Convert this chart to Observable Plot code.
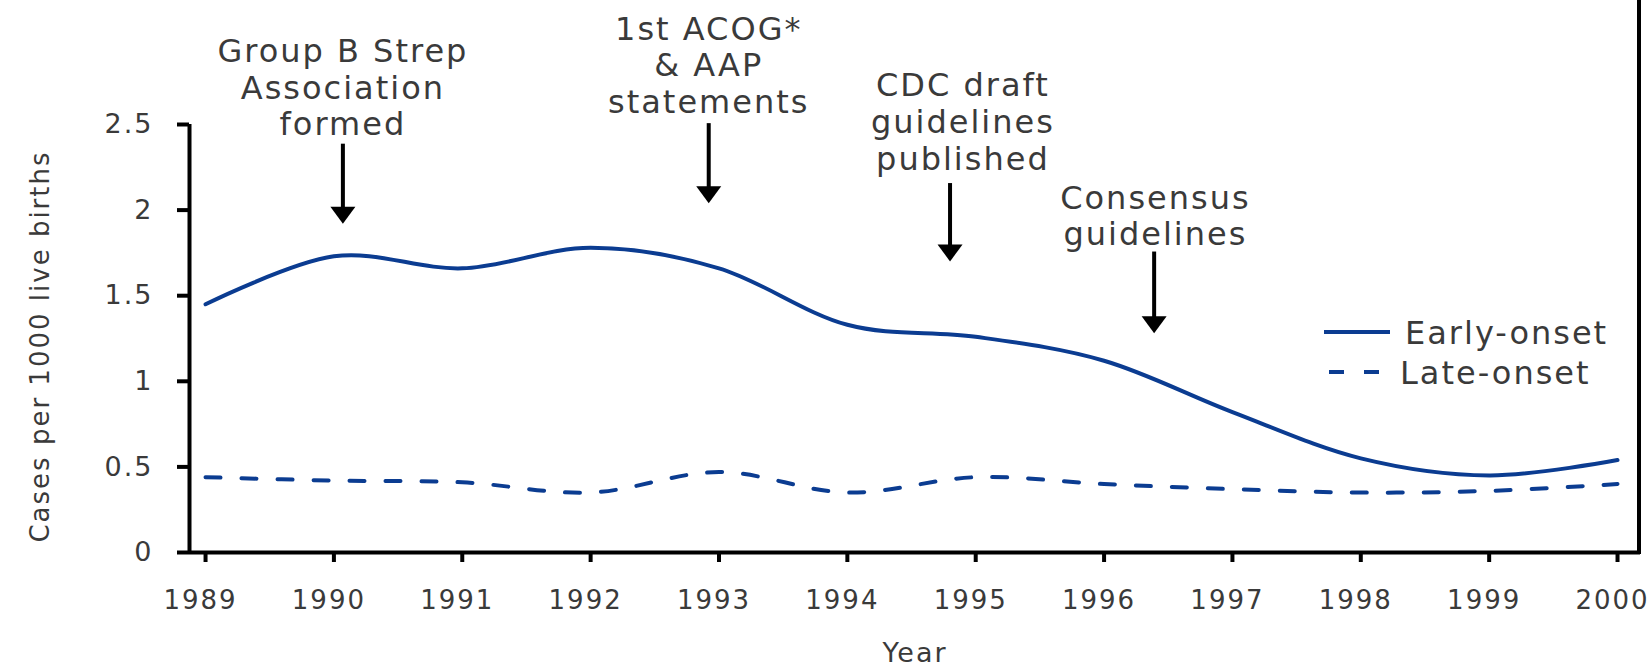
<!DOCTYPE html>
<html>
<head>
<meta charset="utf-8">
<script src="https://cdn.jsdelivr.net/npm/d3@7"></script>
<script src="https://cdn.jsdelivr.net/npm/@observablehq/plot@0.6"></script>
<style>
  html, body { margin: 0; padding: 0; background: #fff; }
  #chart svg text { letter-spacing: 2px; }
</style>
</head>
<body>
<div id="chart"></div>
<script>
// ---- data ----
const years = [1989, 1990, 1991, 1992, 1993, 1994, 1995, 1996, 1997, 1998, 1999, 2000];
const earlyOnset = [1.45, 1.73, 1.66, 1.78, 1.66, 1.33, 1.26, 1.12, 0.82, 0.55, 0.45, 0.54];
const lateOnset  = [0.44, 0.42, 0.41, 0.35, 0.47, 0.35, 0.44, 0.40, 0.37, 0.35, 0.36, 0.40];
const seriesNames = ["Early-onset", "Late-onset"];
const yTicks = [0, 0.5, 1, 1.5, 2, 2.5];
const yTickLabels = ["0", "0.5", "1", "1.5", "2", "2.5"];
const xTickLabels = ["1989", "1990", "1991", "1992", "1993", "1994", "1995", "1996", "1997", "1998", "1999", "2000"];
const xLabel = "Year";
const yLabel = "Cases per 1000 live births";
// annotation events (year position, arrow from/to in data units)
const eventLabels = ["Group B Strep\nAssociation\nformed", "1st ACOG*\n& AAP\nstatements", "CDC draft\nguidelines\npublished", "Consensus\nguidelines"];
const eventYears = [1990.07, 1992.92, 1994.80, 1996.39];
const eventLabelYears = [1990.07, 1992.92, 1994.90, 1996.40];
const arrowFrom = [2.35, 2.47, 2.12, 1.72];
const arrowTo = [1.92, 2.04, 1.70, 1.28];
const eventLabelLevel = [2.72, 2.85, 2.52, 1.97];

// ---- build ----
const rows = years.map((y, i) => ({year: y, early: earlyOnset[i], late: lateOnset[i]}));
const events = eventLabels.map((t, i) => ({
  label: t, x: eventYears[i], lx: eventLabelYears[i],
  from: arrowFrom[i], to: arrowTo[i], ly: eventLabelLevel[i]
}));

const blue = "#0b3c91";
const ink = "#000";
const txt = "#3a3a3a";

const headSymbol = {
  draw(ctx) {
    ctx.moveTo(-12.5, -17);
    ctx.lineTo(12.5, -17);
    ctx.lineTo(0, 0);
    ctx.closePath();
  }
};

const chart = Plot.plot({
  width: 1650,
  height: 665,
  marginLeft: 189,
  marginRight: 10,
  marginTop: 124,
  marginBottom: 113,
  style: {fontFamily: "'DejaVu Sans', sans-serif", background: "#fff", overflow: "visible"},
  x: {domain: [1988.875, 2000.179], axis: null},
  y: {domain: [0, 2.5], axis: null},
  marks: [
    Plot.axisY(yTicks, {
      tickSize: 12, tickPadding: 24, strokeWidth: 4, stroke: ink,
      fontSize: 27, fill: txt, label: null,
      tickFormat: d => yTickLabels[yTicks.indexOf(d)]
    }),
    Plot.axisX(years, {
      tickSize: 10, tickPadding: 28, strokeWidth: 4, stroke: ink,
      fontSize: 26, fill: txt, label: null, text: null
    }),
    Plot.axisX(years, {
      tickSize: 10, tickPadding: 28, stroke: null,
      fontSize: 26, fill: txt, label: null, dx: -5,
      tickFormat: d => xTickLabels[years.indexOf(d)]
    }),
    Plot.ruleX([1988.875], {y1: 0, y2: 2.5, stroke: ink, strokeWidth: 4}),
    Plot.ruleY([0], {stroke: ink, strokeWidth: 4}),
    Plot.line(rows, {x: "year", y: "early", stroke: blue, strokeWidth: 4, curve: "cardinal"}),
    Plot.line(rows, {x: "year", y: "late", stroke: blue, strokeWidth: 4, curve: "cardinal", strokeDasharray: "15,21"}),
    Plot.ruleX(events, {x: "x", y1: "from", y2: "to", stroke: ink, strokeWidth: 4, dy: -6}),
    Plot.dot(events, {x: "x", y: "to", symbol: headSymbol, fill: ink, stroke: null, r: 10}),
    Plot.text(events, {x: "lx", y: "ly", text: "label", lineAnchor: "middle", lineHeight: 1.15, fontSize: 32, fill: txt, textAnchor: "middle"}),
    Plot.text([yLabel], {frameAnchor: "left", rotate: -90, dx: -149, dy: 8, fontSize: 26, fill: txt, textAnchor: "middle", lineAnchor: "middle"}),
    Plot.text([xLabel], {frameAnchor: "bottom", dy: 90, lineAnchor: "top", fontSize: 27, fill: txt})
  ]
});

document.getElementById("chart").appendChild(chart);

// right border of the plot area, and the legend
const svg = d3.select(chart);
const sx = chart.scale("x"), sy = chart.scale("y");
const xr = sx.apply(2000.179), y0 = sy.apply(0);
svg.append("line").attr("x1", xr - 1).attr("x2", xr - 1).attr("y1", 0).attr("y2", y0 + 2)
  .attr("stroke", ink).attr("stroke-width", 4);

const leg = svg.append("g").attr("font-size", 32).attr("fill", txt).attr("text-anchor", "start");
const legendItems = [
  {name: seriesNames[0], x1: 1324, x2: 1390, y: 332, tx: 1405, dash: null},
  {name: seriesNames[1], x1: 1329, x2: 1379, y: 372, tx: 1400, dash: "15,20"}
];
legendItems.forEach(it => {
  const l = leg.append("line").attr("x1", it.x1).attr("x2", it.x2).attr("y1", it.y).attr("y2", it.y)
    .attr("stroke", blue).attr("stroke-width", 4);
  if (it.dash) l.attr("stroke-dasharray", it.dash);
  leg.append("text").attr("x", it.tx).attr("y", it.y).attr("dy", "0.36em").attr("text-anchor", "start").text(it.name);
});
</script>
</body>
</html>
